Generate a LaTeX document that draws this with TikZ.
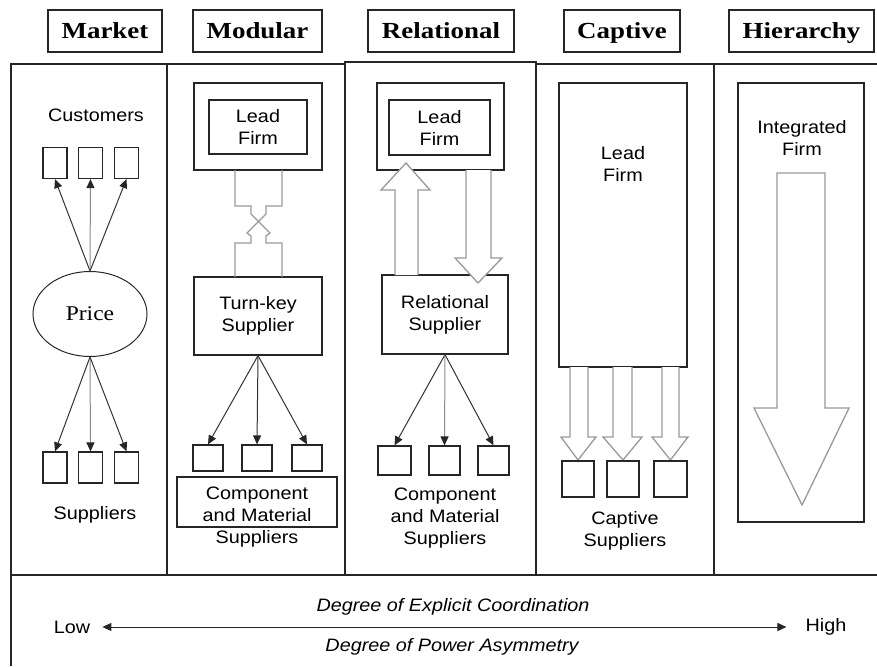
\documentclass[tikz,border=0pt]{standalone}
\usepackage{fontspec}
\setmainfont{Liberation Sans}[FakeStretch=1.1]
\newfontfamily\hdrfont{Liberation Serif}[FakeStretch=1.17]
\newfontfamily\pricefont{Liberation Serif}[FakeStretch=1.12]
\usetikzlibrary{arrows.meta,shapes.geometric,calc}

\begin{document}
\begin{tikzpicture}[x=1pt,y=-1pt,
  frame/.style={line width=1.3pt, draw=black!85},
  box/.style={draw=black!85, line width=1.2pt, inner sep=0pt, fill=white},
  hdr/.style={box, minimum height=42, text height=15pt, text depth=0pt,
              font=\hdrfont\bfseries\fontsize{23}{26}\selectfont},
  lbl/.style={align=center, inner sep=0pt, font=\fontsize{18}{22}\selectfont},
  pipe/.style={draw=black!40, line width=1.3pt},
  hollow/.style={draw=black!40, line width=1.3pt, fill=white, line join=miter},
  link/.style={draw=black!80, line width=1pt, -{Triangle[length=9pt,width=8pt,color=black!85]}},
  scalebar/.style={draw=black!85, line width=1pt,
                   {Triangle[length=9pt,width=8pt]}-{Triangle[length=9pt,width=8pt]}},
]
\useasboundingbox (0,0) rectangle (877,666);

% outer frame and column separators
\draw[frame] (877,64) -- (11,64) -- (11,666);
\draw[frame] (11,575) -- (877,575);
\draw[frame] (167,64) -- (167,575);
\draw[frame] (714,64) -- (714,575);
\draw[frame, fill=white] (345,62) rectangle (536,575);
\draw[line width=2pt, draw=black!85] (345,575) -- (536,575);

% column headings
\node[hdr, minimum width=114] (hMarket) at (105,31) {Market};
\node[hdr, minimum width=129] (hModular) at (257.5,31) {Modular};
\node[hdr, minimum width=146] (hRel) at (441,31) {Relational};
\node[hdr, minimum width=116] (hCap) at (622,31) {Captive};
\node[hdr, minimum width=145] (hHier) at (801.5,31) {Hierarchy};

% ---- Market ----
\node[lbl] (customers) at (96,115) {Customers};
\node[draw=black!85, line width=1pt, ellipse, minimum width=114, minimum height=85,
      inner sep=0pt, font=\pricefont\fontsize{21}{24}\selectfont] (price) at (90,314) {Price};
\foreach \n/\x in {1/55,2/90.5,3/126.5}{
  \node[box, minimum width=24, minimum height=31] (cu\n) at (\x,163) {};
  \node[box, minimum width=24, minimum height=31] (su\n) at (\x,467.5) {};
}
\foreach \n/\c in {1/black!80,2/black!45,3/black!80}{
  \draw[link, draw=\c] (price.north) -- (cu\n.south);
  \draw[link, draw=\c] (price.south) -- (su\n.north);
}
\node[lbl] (suppliers) at (95,515) {Suppliers};

% ---- Modular ----
\node[box, minimum width=128, minimum height=87] (mOuter) at (258,126.5) {};
\node[box, lbl, minimum width=98, minimum height=54] (mLead) at (258,127) {Lead\\Firm};
\node[box, lbl, minimum width=128, minimum height=78] (mTurn) at (258,316) {Turn-key\\Supplier};
\draw[pipe] (235,170) |- (251,206) -- (251,214) -- (270,233) -- (266,236) -- (266,243) -| (282,277);
\draw[pipe] (282,170) |- (266,206) -- (266,214) -- (247,233) -- (251,236) -- (251,243) -| (235,277);
\node[box, minimum width=160, minimum height=50] (mComp) at (257,502) {};
\foreach \n/\x in {1/208,2/257,3/307}{
  \node[box, minimum width=30, minimum height=26] (mc\n) at (\x,458) {};
  \draw[link] (mTurn.south) -- (mc\n.north);
}
\node[lbl] (mCompText) at (257,517) {Component\\and Material\\Suppliers};

% ---- Relational ----
\node[box, minimum width=127, minimum height=87] (rOuter) at (440.5,126.5) {};
\node[box, lbl, minimum width=101, minimum height=55] (rLead) at (439.5,127.5) {Lead\\Firm};
\node[box, lbl, minimum width=126, minimum height=79] (rSup) at (445,314.5) {Relational\\Supplier};
\draw[hollow] (395,275) -- (395,190) -- (381,190) -- (406,163) -- (430,190) -- (418,190) -- (418,275);
\draw[hollow] (466,170) -- (466,258) -- (455,258) -- (478,283) -- (502,258) -- (491,258) -- (491,170);
\foreach \n/\x/\w/\c in {1/394.5/33/black!80,2/444.5/31/black!45,3/493.5/31/black!80}{
  \node[box, minimum width=\w, minimum height=29] (rc\n) at (\x,460.5) {};
  \draw[link, draw=\c] (rSup.south) -- (rc\n.north);
}
\node[lbl] (rCompText) at (445,518) {Component\\and Material\\Suppliers};

% ---- Captive ----
\node[box, minimum width=128, minimum height=284] (cLead) at (623,225) {};
\node[lbl] (cLeadText) at (623,164) {Lead\\Firm};
\foreach \n/\sl/\sr/\hl/\hr/\t/\w in {1/570/588/561/596/578/32,2/613/632/603/642/623/32,3/662/679/652/688/670.5/33}{
  \draw[hollow] (\sl,367) -- (\sl,437) -- (\hl,437) -- (\t,460) -- (\hr,437) -- (\sr,437) -- (\sr,367);
  \node[box, minimum width=\w, minimum height=36] (cs\n) at (\t,479) {};
}
\node[lbl] (cSupText) at (625,531) {Captive\\Suppliers};

% ---- Hierarchy ----
\node[box, minimum width=126, minimum height=439] (hFirm) at (801,302.5) {};
\node[lbl] (hFirmText) at (802,138) {Integrated\\Firm};
\draw[hollow] (777,173) -- (825,173) -- (825,408) -- (849,408) -- (802,505) -- (754,408) -- (777,408) -- cycle;

% ---- scale at the bottom ----
\node[lbl] (low) at (72,627) {Low};
\node[lbl] (high) at (826,627) {High};
\node[lbl, font=\itshape\fontsize{18}{22}\selectfont] (coord) at (453,607) {Degree of Explicit Coordination};
\node[lbl, font=\itshape\fontsize{18}{22}\selectfont] (power) at (452,647) {Degree of Power Asymmetry};
\draw[scalebar] ([xshift=12pt]low.east) -- ([xshift=-19pt]high.west);
\end{tikzpicture}
\end{document}
